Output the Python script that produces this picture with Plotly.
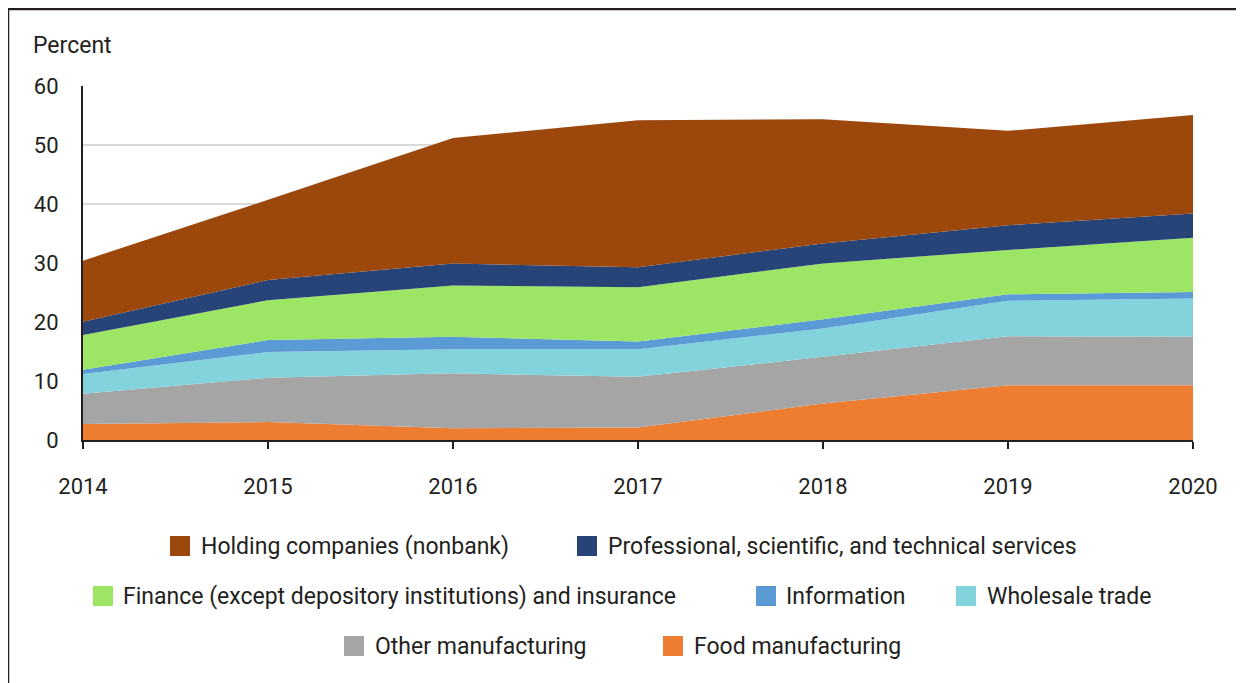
import plotly.graph_objects as go

years = [2014, 2015, 2016, 2017, 2018, 2019, 2020]

series_names = [
    "Food manufacturing",
    "Other manufacturing",
    "Wholesale trade",
    "Information",
    "Finance (except depository institutions) and insurance",
    "Professional, scientific, and technical services",
    "Holding companies (nonbank)",
]
food = [2.7, 3.05, 2.0, 2.1, 6.2, 9.3, 9.3]
other_mfg = [5.15, 7.5, 9.3, 8.6, 7.9, 8.3, 8.2]
wholesale = [3.35, 4.35, 4.1, 4.7, 4.8, 6.0, 6.5]
information = [0.7, 2.05, 2.1, 1.3, 1.55, 1.1, 1.1]
finance = [5.9, 6.75, 8.7, 9.2, 9.45, 7.5, 9.2]
professional = [2.25, 3.4, 3.7, 3.4, 3.4, 4.2, 4.1]
holding = [10.35, 13.6, 21.3, 24.9, 21.05, 16.0, 16.7]

series_values = [food, other_mfg, wholesale, information, finance, professional, holding]
colors = ["#ED7D31", "#A5A5A5", "#83D3DC", "#5B9BD5", "#9DE564", "#264478", "#9C480D"]

y_ticks = [0, 10, 20, 30, 40, 50, 60]

FONT = "Roboto, Liberation Sans, Arial, sans-serif"
TXT = "#231f20"

fig = go.Figure()
for name, vals, col in zip(series_names, series_values, colors):
    fig.add_trace(go.Scatter(
        x=years, y=vals, name=name, stackgroup="one", mode="lines",
        line=dict(width=0, color=col), fillcolor=col, showlegend=False,
    ))

# page offset (body margin) and figure size
OFF = 8
FW, FH = 1244 - OFF, 683 - OFF
# plot area in page pixels
L, R, T, B = 83 - OFF, 1193 - OFF, 86 - OFF, 440 - OFF
W, H = R - L, B - T


def px(x_page):
    return (x_page - OFF - L) / W


def py(y_page):
    return (B - (y_page - OFF)) / H


shapes = []
annotations = []

# legend layout: (series index, swatch left, row center, text left) in page pixels
legend_layout = [
    (6, 170, 546, 199),
    (5, 577, 546, 606),
    (4, 93, 596, 121),
    (3, 756, 596, 784),
    (2, 956, 596, 985),
    (1, 344, 646, 373),
    (0, 663, 646, 692),
]
for idx, sx, cy, tx in legend_layout:
    shapes.append(dict(type="rect", xref="paper", yref="paper",
                       x0=px(sx), x1=px(sx + 20), y0=py(cy - 10), y1=py(cy + 10),
                       fillcolor=colors[idx], line=dict(width=0)))
    annotations.append(dict(text=series_names[idx], xref="paper", yref="paper",
                            x=px(tx), y=py(cy), xanchor="left", yanchor="middle",
                            showarrow=False, font=dict(family=FONT, size=23, color=TXT)))

annotations.append(dict(text="Percent", xref="paper", yref="paper",
                        x=px(31), y=py(45), xanchor="left", yanchor="middle",
                        showarrow=False, font=dict(family=FONT, size=23, color=TXT)))

# frame lines (top and left)
shapes.append(dict(type="line", xref="paper", yref="paper",
                   x0=px(8), x1=px(1260), y0=py(9), y1=py(9),
                   line=dict(color=TXT, width=2.5)))
shapes.append(dict(type="line", xref="paper", yref="paper",
                   x0=px(8), x1=px(8), y0=py(9), y1=py(700),
                   line=dict(color=TXT, width=2.5)))

fig.update_layout(
    width=FW, height=FH,
    margin=dict(l=L, r=FW - R, t=T, b=FH - B),
    paper_bgcolor="white", plot_bgcolor="white",
    font=dict(family=FONT, size=22, color=TXT),
    shapes=shapes, annotations=annotations,
    xaxis=dict(range=[2014, 2020], tickvals=years, ticktext=[str(y) for y in years],
               showgrid=False, zeroline=False, showline=True, linecolor=TXT, linewidth=2,
               ticks="outside", ticklen=7, tickwidth=2, tickcolor=TXT,
               ticklabelstandoff=19, tickfont=dict(size=22, color=TXT)),
    yaxis=dict(range=[0, 60], tickvals=y_ticks, showgrid=True, gridcolor="#d9d9d9",
               gridwidth=1.5, zeroline=False, showline=True, linecolor=TXT, linewidth=2,
               ticks="", ticklabelstandoff=18, tickfont=dict(size=22, color=TXT)),
)

fig.write_html("out.html")
